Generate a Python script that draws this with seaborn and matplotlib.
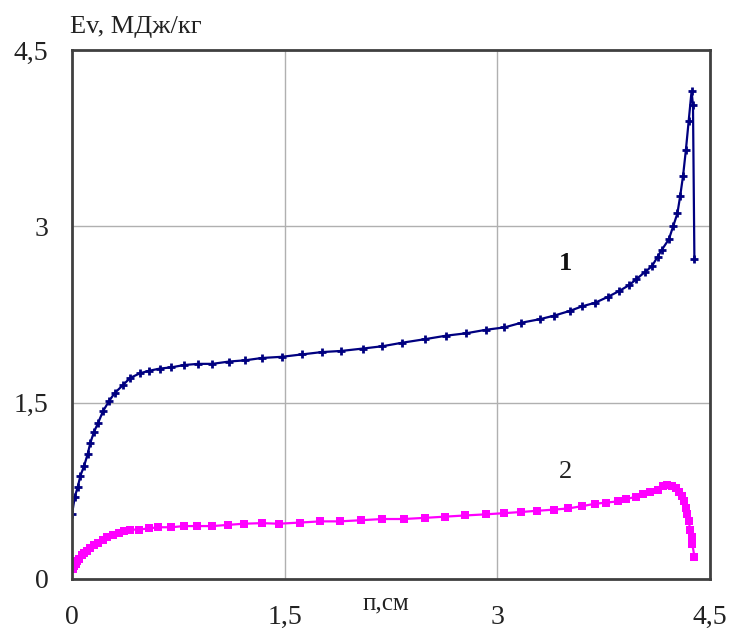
import matplotlib
matplotlib.use("Agg")
import matplotlib.pyplot as plt
import seaborn as sns
import pandas as pd

# Curve 1: specific energy along the depth
n1 = [0, 0.02, 0.04, 0.06, 0.085, 0.11, 0.13, 0.155, 0.185, 0.22, 0.26, 0.30,
      0.36, 0.41, 0.48, 0.54, 0.62, 0.70, 0.79, 0.89, 0.99, 1.11, 1.22, 1.34,
      1.48, 1.62, 1.76, 1.90, 2.05, 2.19, 2.33, 2.49, 2.64, 2.78, 2.92, 3.05,
      3.17, 3.30, 3.40, 3.51, 3.60, 3.69, 3.78, 3.86, 3.93, 3.98, 4.04, 4.09,
      4.13, 4.16, 4.21, 4.24, 4.27, 4.29, 4.31, 4.33, 4.35, 4.37, 4.38, 4.39]
ev1 = [0.55, 0.70, 0.78, 0.88, 0.96, 1.06, 1.16, 1.25, 1.33, 1.43, 1.51, 1.58,
       1.65, 1.71, 1.75, 1.77, 1.79, 1.80, 1.82, 1.83, 1.83, 1.85, 1.86, 1.88,
       1.89, 1.91, 1.93, 1.94, 1.96, 1.98, 2.01, 2.04, 2.07, 2.09, 2.12, 2.14,
       2.18, 2.21, 2.24, 2.28, 2.32, 2.35, 2.40, 2.45, 2.50, 2.55, 2.61, 2.66,
       2.74, 2.80, 2.89, 3.00, 3.11, 3.26, 3.43, 3.65, 3.90, 4.15, 4.03, 2.72]

# Curve 2
n2 = [0.005, 0.014, 0.026, 0.037, 0.051, 0.068, 0.087, 0.108, 0.13, 0.157,
      0.185, 0.216, 0.25, 0.29, 0.33, 0.37, 0.41, 0.47, 0.54, 0.61, 0.70,
      0.79, 0.88, 0.99, 1.10, 1.21, 1.34, 1.46, 1.61, 1.75, 1.89, 2.04, 2.19,
      2.34, 2.49, 2.63, 2.77, 2.92, 3.05, 3.17, 3.28, 3.40, 3.50, 3.60, 3.69,
      3.77, 3.85, 3.91, 3.98, 4.03, 4.08, 4.13, 4.17, 4.20, 4.23, 4.26, 4.28,
      4.30, 4.32, 4.33, 4.34, 4.35, 4.36, 4.37, 4.375, 4.39]
ev2 = [0.083, 0.11, 0.13, 0.15, 0.17, 0.20, 0.22, 0.24, 0.26, 0.29, 0.31,
       0.33, 0.36, 0.375, 0.395, 0.41, 0.42, 0.42, 0.43, 0.44, 0.44, 0.45,
       0.45, 0.45, 0.46, 0.47, 0.475, 0.47, 0.48, 0.49, 0.49, 0.50, 0.51,
       0.51, 0.52, 0.53, 0.54, 0.55, 0.56, 0.57, 0.58, 0.59, 0.60, 0.62,
       0.64, 0.65, 0.66, 0.68, 0.70, 0.72, 0.74, 0.76, 0.79, 0.80, 0.795,
       0.77, 0.74, 0.71, 0.66, 0.60, 0.55, 0.49, 0.42, 0.36, 0.30, 0.19]

ticks = [0, 1.5, 3, 4.5]
tick_labels = ["0", "1,5", "3", "4,5"]

sns.set_theme(style="white")
plt.rcParams["font.family"] = ["Liberation Serif", "DejaVu Serif"]

fig = plt.figure(figsize=(7.30, 6.37), dpi=100)
ax = fig.add_axes([0.0986, 0.0911, 0.874, 0.8304])

df1 = pd.DataFrame({"n": n1, "ev": ev1})
df2 = pd.DataFrame({"n": n2, "ev": ev2})

sns.lineplot(data=df1, x="n", y="ev", ax=ax, sort=False, estimator=None,
             color="#000080", linewidth=1.6, marker="+", markersize=6,
             markeredgewidth=2.0, markeredgecolor="#000080")
sns.lineplot(data=df2, x="n", y="ev", ax=ax, sort=False, estimator=None,
             color="#FF00FF", linewidth=1.6, marker="s", markersize=5.2,
             markeredgewidth=0, markerfacecolor="#FF00FF")

ax.set_xlim(0, 4.5)
ax.set_ylim(0, 4.5)
ax.set_xticks(ticks)
ax.set_xticklabels(tick_labels)
ax.set_yticks(ticks)
ax.set_yticklabels(tick_labels)
ax.set_xlabel("")
ax.set_ylabel("")

for x in ticks[1:-1]:
    ax.axvline(x, color="#b0b0b0", linewidth=1.0, zorder=0)
    ax.axhline(x, color="#b0b0b0", linewidth=1.0, zorder=0)

for side in ["left", "bottom", "top", "right"]:
    ax.spines[side].set_visible(True)
    ax.spines[side].set_color("#404040")
    ax.spines[side].set_linewidth(2.0)

ax.tick_params(axis="both", which="major", direction="out", length=6,
               width=1.2, color="#707070", labelsize=20, labelcolor="#222222")
ax.tick_params(axis="x", pad=13)
ax.tick_params(axis="y", pad=11)

ax.text(3.48, 2.68, "1", fontsize=19, fontweight="bold", color="#111111",
        ha="center", va="center")
ax.text(3.48, 0.91, "2", fontsize=19, color="#222222",
        ha="center", va="center")

fig.text(0.096, 0.958, "Ev, МДж/кг", fontsize=19, color="#222222",
         ha="left", va="center")
fig.text(0.528, 0.052, "п,см", fontsize=18, color="#222222",
         ha="center", va="center")

fig.savefig("out.png", dpi=100)
